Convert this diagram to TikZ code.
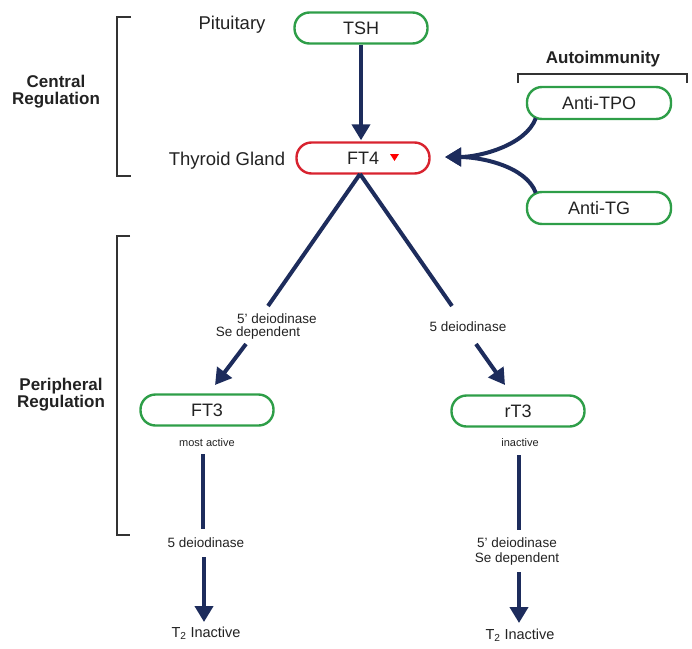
\documentclass[tikz,border=0pt]{standalone}
\usepackage{fontspec}
\setmainfont{Liberation Sans}
\usetikzlibrary{arrows.meta,calc}
\definecolor{navy}{HTML}{1D2C5C}
\definecolor{boxgreen}{HTML}{2E9E48}
\definecolor{boxred}{HTML}{D8232F}
\definecolor{txt}{HTML}{222222}
\tikzset{
  pill/.style={draw=boxgreen, line width=2.4pt, rounded corners=15pt, minimum width=133pt, minimum height=31pt, inner sep=0pt, font=\fontsize{18}{20}\selectfont, text=txt},
  redpill/.style={pill, draw=boxred},
  arr/.style={draw=navy, line width=4pt, -{Triangle[width=18pt,length=16pt]}},
  shaft/.style={draw=navy, line width=4pt},
  side/.style={font=\fontsize{18.5}{20}\selectfont, text=txt},
  small/.style={font=\fontsize{13.5}{15}\selectfont, text=txt, inner sep=1pt},
  tiny/.style={font=\fontsize{11}{12}\selectfont, text=txt, inner sep=1pt},
  head/.style={font=\bfseries\fontsize{17}{17}\selectfont, text=txt, align=center},
  brack/.style={draw=black!80, line width=1.6pt}
}
\begin{document}
\begin{tikzpicture}[x=1pt,y=-1pt]
\useasboundingbox (0,0) rectangle (692,648);
% nodes
\node[pill] (TSH) at (361,28) {TSH};
\node[redpill] (FT4) at (363,158) {FT4\hspace{26pt}};
\fill[red] ($(FT4)+(27,-4)$) -- ++(9,0) -- ++(-4.5,7) -- cycle;
\node[pill, minimum width=144pt, minimum height=32pt] (TPO) at (599,103) {Anti-TPO};
\node[pill, minimum width=144pt, minimum height=32pt] (TG) at (599,208) {Anti-TG};
\node[pill] (FT3) at (207,410) {FT3};
\node[pill] (RT3) at (518,411) {rT3};
% side labels
\node[side] (pit) at (232,25) {Pituitary};
\node[side] (thy) at (227,161) {Thyroid Gland};
\node[head] (cen) at (56,92) {Central\\Regulation};
\node[head] (per) at (61,395) {Peripheral\\Regulation};
\node[head] (auto) at (603,59) {Autoimmunity};
% brackets
\draw[brack] (131,17) -- (117,17) -- (117,176) -- (131,176);
\draw[brack] (130,236) -- (117,236) -- (117,535) -- (130,535);
\draw[brack] (518,83) -- (518,74) -- (687,74) -- (687,83);
% small labels
\node[small] (lLa) at (277,319) {5' deiodinase};
\node[small] (lLb) at (258,333) {Se dependent};
\node[small] (lR) at (468,327) {5 deiodinase};
\node[tiny] (most) at (207,443) {most active};
\node[tiny] (inac) at (520,443) {inactive};
\node[small] (lB1) at (206,543) {5 deiodinase};
\node[small] (lB2a) at (517,543) {5' deiodinase};
\node[small] (lB2b) at (517,559) {Se dependent};
\node[small, font=\fontsize{14.5}{16}\selectfont] (T2a) at (206,633) {T\textsubscript{2} Inactive};
\node[small, font=\fontsize{14.5}{16}\selectfont] (T2b) at (520,635) {T\textsubscript{2} Inactive};
% coordinates
\coordinate (apex) at (360,174);
\coordinate (l1) at (268,306);
\coordinate (l2) at (246,344);
\coordinate (l3) at (215,385);
\coordinate (r1) at (452,306);
\coordinate (r2) at (476,344);
\coordinate (r3) at (505,385);
% connectors
\draw[arr] (TSH.south) -- ($(FT4.north)+(-2,-1)$);
\draw[shaft] (apex) -- (l1);
\draw[arr] (l2) -- (l3);
\draw[shaft] (apex) -- (r1);
\draw[arr] (r2) -- (r3);
\draw[shaft] (203,454) -- (203,529);
\draw[arr] (204,557) -- (204,622);
\draw[shaft] (519,455) -- (519,530);
\draw[arr] (519,572) -- (519,623);
% autoimmunity curves
\coordinate (tip) at (445,157);
\draw[arr] ($(TPO.south west)+(10,-2)$) .. controls ($(TPO.south west)+(0,25)$) and (480,157) .. (tip);
\draw[arr] ($(TG.north west)+(10,2)$) .. controls ($(TG.north west)+(0,-25)$) and (480,157) .. (tip);
\end{tikzpicture}
\end{document}
